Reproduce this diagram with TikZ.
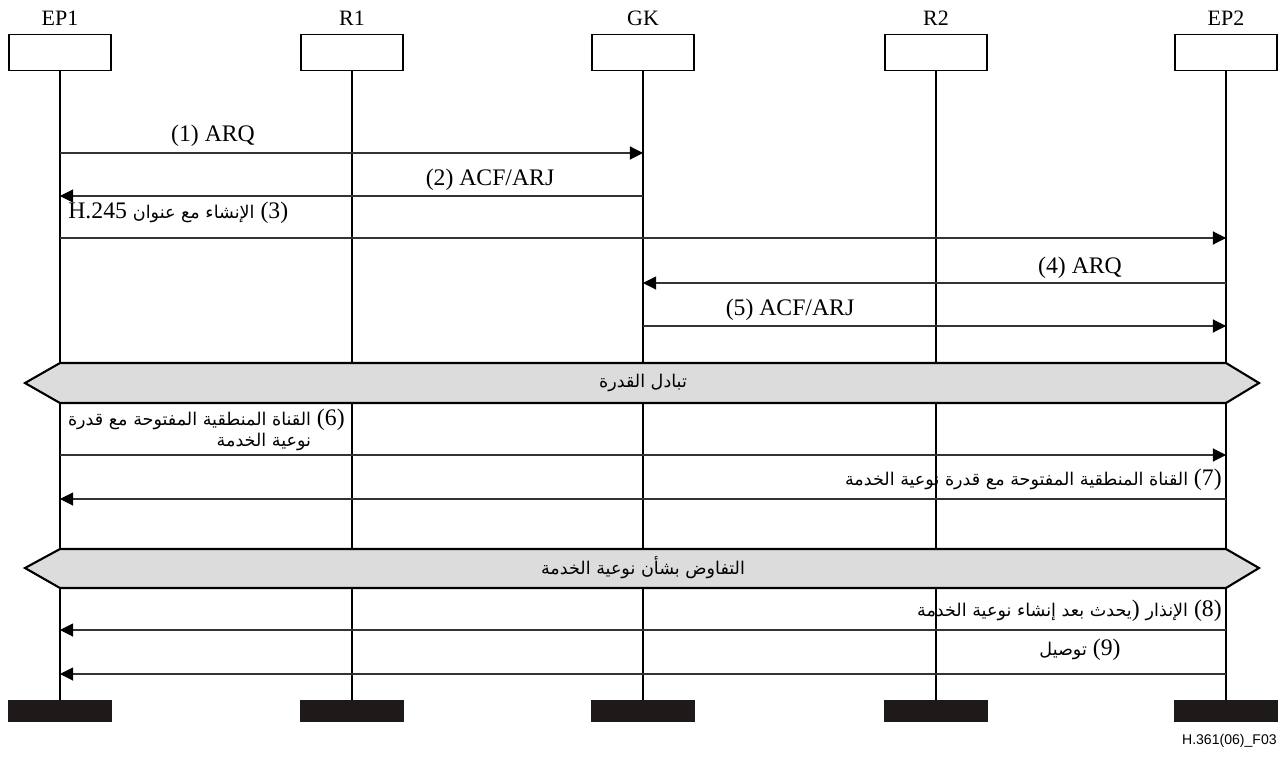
\documentclass[tikz,border=0pt]{standalone}
\usepackage{fontspec}
\setmainfont{Liberation Serif}
\newfontfamily\arabicfont[Script=Arabic]{DejaVu Sans}
\newfontfamily\figfont{Liberation Sans}
\TeXXeTstate=1
\usetikzlibrary{arrows.meta}
\definecolor{bandgray}{HTML}{DCDCDC}
\definecolor{barblack}{HTML}{1E1A1A}
\newcommand{\artxt}[1]{{\arabicfont\fontsize{10}{12}\selectfont\beginR #1\endR}}

\begin{document}
\begin{tikzpicture}[
		x=0.02cm,
		y=-0.02cm,
		line join=miter,
		entity/.style={draw,line width=0.9pt,minimum width=2.04cm,minimum height=0.72cm,inner sep=0pt},
		endbar/.style={fill=barblack,minimum width=2.08cm,minimum height=0.44cm,inner sep=0pt},
		lname/.style={font=\fontsize{12.5}{14}\selectfont,inner sep=0pt},
		life/.style={line width=0.6pt},
		msg/.style={line width=0.6pt,draw=black!80,-{Triangle[length=7.5pt,width=7.5pt,color=black]}},
		msglbl/.style={font=\fontsize{13.5}{15}\selectfont,inner sep=0pt},
		band/.style={draw,line width=1.2pt,fill=bandgray},
		bandlbl/.style={inner sep=0pt}
	]
	
	\useasboundingbox (0,0) rectangle (1285,771);
	
	% Entities, lifelines and end bars
	\foreach \nm/\x in {EP1/60,R1/352,GK/643,R2/936,EP2/1226} {
		\node[lname] (lab\nm) at (\x,18) {\nm};
		\node[entity] (box\nm) at (\x,52.5) {};
		\node[endbar] (end\nm) at (\x,711) {};
		\draw[life] (box\nm) -- (end\nm);
	}
	
	% Admission and setup
	\draw[msg] (boxEP1 |- 0,153) -- (boxGK |- 0,153);
	\node[msglbl] (t1) at (213,136) {(1) ARQ};
	
	\draw[msg] (boxGK |- 0,196) -- (boxEP1 |- 0,196);
	\node[msglbl] (t2) at (490,180) {(2) ACF/ARJ};
	
	\draw[msg] (boxEP1 |- 0,238) -- (boxEP2 |- 0,238);
	\node[msglbl,anchor=west] (t3) at (68,213) {H.245 \artxt{الإنشاء مع عنوان} (3)};
	
	\draw[msg] (boxEP2 |- 0,283) -- (boxGK |- 0,283);
	\node[msglbl] (t4) at (1080,268) {(4) ARQ};
	
	\draw[msg] (boxGK |- 0,326) -- (boxEP2 |- 0,326);
	\node[msglbl] (t5) at (790,310) {(5) ACF/ARJ};
	
	% Capability exchange
	\draw[band] (25,383) -- (60,363) -- (1226,363) -- (1259,383) -- (1226,403) -- (60,403) -- cycle;
	\node[bandlbl] (cap1) at (643,383) {\artxt{تبادل القدرة}};
	
	% Logical channels
	\draw[msg] (boxEP1 |- 0,455) -- (boxEP2 |- 0,455);
	\node[msglbl,anchor=east,align=right] (t6) at (345,430)
	{\artxt{القناة المنطقية المفتوحة مع قدرة} (6)\\[-3pt] \artxt{نوعية الخدمة}\phantom{ (6)}};
	
	\draw[msg] (boxEP2 |- 0,499) -- (boxEP1 |- 0,499);
	\node[msglbl,anchor=east] (t7) at (1222,480) {\artxt{القناة المنطقية المفتوحة مع قدرة نوعية الخدمة} (7)};
	
	% QoS negotiation
	\draw[band] (25,568) -- (60,549) -- (1226,549) -- (1259,568) -- (1226,588) -- (60,588) -- cycle;
	\node[bandlbl] (cap2) at (643,568) {\artxt{التفاوض بشأن نوعية الخدمة}};
	
	\draw[msg] (boxEP2 |- 0,630) -- (boxEP1 |- 0,630);
	\node[msglbl,anchor=east] (t8) at (1222,611) {\artxt{يحدث بعد إنشاء نوعية الخدمة}\hbox{)} \artxt{الإنذار} (8)};
	
	\draw[msg] (boxEP2 |- 0,674) -- (boxEP1 |- 0,674);
	\node[msglbl] (t9) at (1080,650) {\artxt{توصيل} (9)};
	
	% Figure id
	\node[anchor=east,font=\figfont\fontsize{8}{10}\selectfont,inner sep=0pt] (figid) at (1277,741) {H.361(06)\_F03};
	
\end{tikzpicture}
\end{document}
